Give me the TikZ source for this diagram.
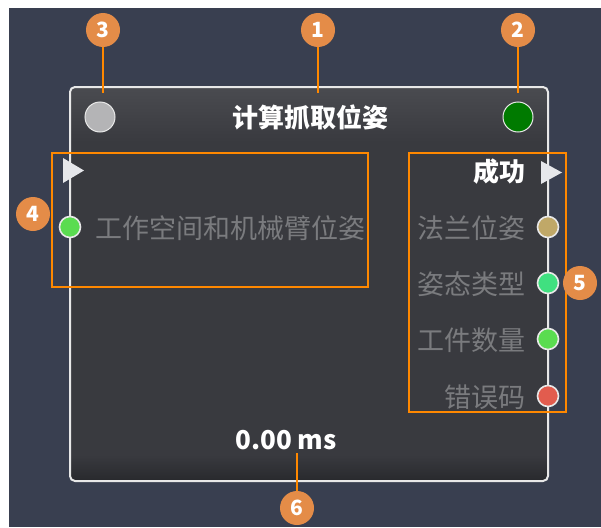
\documentclass[tikz,border=0pt]{standalone}
\usepackage{fontspec}
\setmainfont{Noto Sans CJK SC}
\definecolor{paper}{RGB}{255,255,255}
\definecolor{canvas}{RGB}{57,63,80}
\definecolor{nodebody}{RGB}{57,58,63}
\definecolor{headtop}{RGB}{74,75,80}
\definecolor{footbot}{RGB}{40,41,45}
\definecolor{rim}{RGB}{232,232,232}
\definecolor{badgeor}{RGB}{228,140,72}
\definecolor{calloutor}{RGB}{255,136,0}
\definecolor{labelgray}{RGB}{122,123,126}
\definecolor{flagwhite}{RGB}{230,231,235}
\definecolor{idlegray}{RGB}{180,180,182}
\definecolor{rungreen}{RGB}{0,122,0}
\definecolor{posegreen}{RGB}{90,220,80}
\definecolor{flangetan}{RGB}{192,168,104}
\definecolor{typemint}{RGB}{64,224,128}
\definecolor{errred}{RGB}{226,92,78}
\tikzset{badge/.style={circle,fill=badgeor,text=white,inner sep=0pt,minimum size=34pt,
    font=\bfseries\fontsize{21}{21}\selectfont},
  callout/.style={draw=calloutor,line width=2.4pt},
  lead/.style={calloutor,line width=2pt},
  port/.style={circle,draw=rim,line width=1.6pt,minimum size=21pt,inner sep=0pt},
  lamp/.style={circle,draw=rim,line width=1pt,minimum size=30pt,inner sep=0pt},
  portlabel/.style={text=labelgray,inner sep=0pt,font=\fontsize{27}{27}\selectfont},
  flag/.style={fill=flagwhite}}

\begin{document}
\begin{tikzpicture}[x=1pt,y=-1pt]
\useasboundingbox (0,0) rectangle (601,527);
\fill[paper] (0,0) rectangle (601,527);
\fill[canvas] (9,8) rectangle (601,527);
% node body
\begin{scope}
\clip[rounded corners=5pt] (70,87) rectangle (548,481);
\fill[nodebody] (70,87) rectangle (548,481);
\shade[top color=headtop,bottom color=nodebody] (70,87) rectangle (548,142);
\shade[top color=nodebody,bottom color=footbot] (70,455) rectangle (548,481);
\end{scope}
\draw[rim,line width=2pt,rounded corners=5pt] (70,87) rectangle (548,481);
\coordinate (top3) at (103,93);
\coordinate (top1) at (318,93);
\coordinate (top2) at (518,93);
\coordinate (foot) at (297,453);
\node[text=white,font=\bfseries\fontsize{26}{26}\selectfont] (title) at (310,117) {计算抓取位姿};
\node[lamp,fill=idlegray] (idle) at (100,117) {};
\node[lamp,fill=rungreen] (run) at (518,117) {};
% input side
\fill[flag] (63,158) -- (84,170.5) -- (63,183) -- cycle;
\node[port,fill=posegreen] (in) at (70,227) {};
\node[portlabel,anchor=west] (inlbl) at (95,228) {工作空间和机械臂位姿};
% output side
\fill[flag] (541,161) -- (562,172.5) -- (541,184) -- cycle;
\node[text=white,inner sep=0pt,anchor=east,font=\bfseries\fontsize{26}{26}\selectfont] (ok) at (526,172) {成功};
\node[port,fill=flangetan] (o1) at (548,227) {};
\node[port,fill=typemint] (o2) at (548,283) {};
\node[port,fill=posegreen] (o3) at (548,339) {};
\node[port,fill=errred] (o4) at (548,396) {};
\node[portlabel,anchor=east] (l1) at (526,228) {法兰位姿};
\node[portlabel,anchor=east] (l2) at (526,284) {姿态类型};
\node[portlabel,anchor=east] (l3) at (526,340) {工件数量};
\node[portlabel,anchor=east] (l4) at (526,397) {错误码};
\node[text=white,font=\bfseries\fontsize{26}{26}\selectfont] (time) at (286,440) {0.00 ms};
% callouts
\draw[callout] (52,153) rectangle (368,287);
\draw[callout] (409,153) rectangle (566,412);
\node[badge] (b1) at (318,30) {1};
\node[badge] (b2) at (518,30) {2};
\node[badge] (b3) at (103,30) {3};
\node[badge] (b4) at (33,214) {4};
\node[badge] (b5) at (580,283) {5};
\node[badge] (b6) at (297,508) {6};
\draw[lead] (b1) -- (top1);
\draw[lead] (b2) -- (top2);
\draw[lead] (b3) -- (top3);
\draw[lead] (b6) -- (foot);
\end{tikzpicture}
\end{document}
